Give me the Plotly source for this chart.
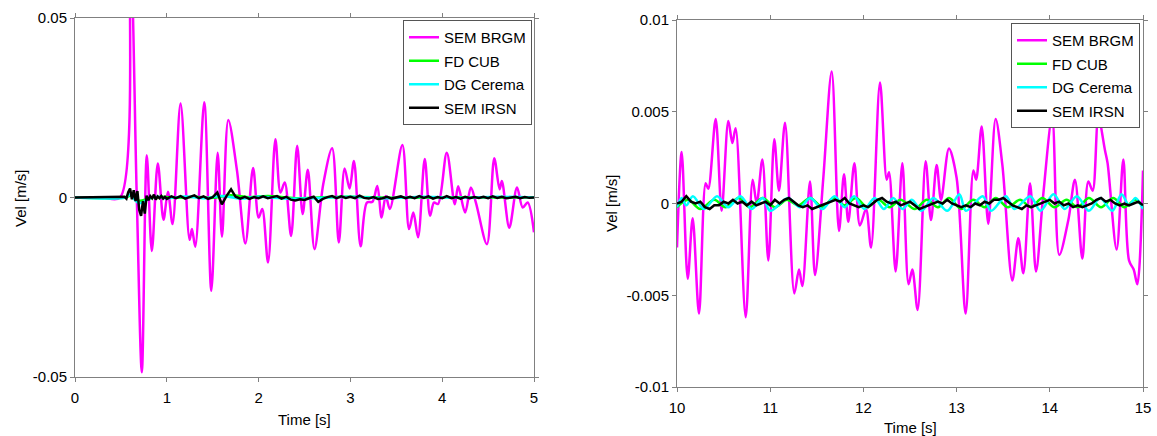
import numpy as np
import plotly.graph_objects as go

# ---------------- Left panel data (0-5 s) ----------------
t_brgm_L = [0, 0.3, 0.49, 0.6, 0.673, 0.728, 0.782, 0.837, 0.902, 0.964, 1.012, 1.063, 1.15, 1.248,
            1.274, 1.31, 1.408, 1.485, 1.554, 1.601, 1.67, 1.765, 1.856, 1.94, 2.0, 2.04, 2.103, 2.183,
            2.238, 2.285, 2.354, 2.42, 2.48, 2.536, 2.609, 2.704, 2.801, 2.874, 2.937, 2.991, 3.039,
            3.111, 3.18, 3.24, 3.293, 3.34, 3.385, 3.43, 3.566, 3.639, 3.686, 3.737, 3.81, 3.868, 3.91,
            3.955, 4.05, 4.137, 4.174, 4.25, 4.312, 4.367, 4.487, 4.567, 4.625, 4.65, 4.731, 4.815,
            4.877, 4.931, 5.0]
v_brgm_L = [0, 0, 0, 0.070, 0, -0.0487, 0.0118, -0.0149, 0.0095, -0.0062, 0.0016, -0.0074, 0.0262,
            -0.0118, -0.0088, -0.0137, 0.0265, -0.026, 0.0125, -0.0109, 0.0216, 0.0074, -0.0128,
            0.0082, -0.0056, -0.0032, -0.0181, 0.0162, 0.0014, 0.0042, -0.0107, 0.0144, -0.0046,
            0.0077, -0.0144, 0.0037, 0.0137, -0.0125, 0.0081, 0.0025, 0.0102, -0.0136, -0.0014,
            -0.0012, 0.0032, -0.0056, 0.0004, -0.0032, 0.0146, -0.0088, -0.0042, -0.0111, 0.0107,
            -0.0051, -0.0014, -0.0018, 0.0125, -0.0019, 0.0031, -0.0042, 0.0028, -0.0014, -0.013,
            0.0109, 0.0023, 0.0046, -0.0084, 0.0028, -0.0028, -0.0014, -0.0097]

t_cub_L = [0, 0.55, 0.62, 0.7, 0.8, 0.95, 1.1, 1.3, 1.5, 1.7, 1.9, 2.1, 2.4, 2.7, 3.0, 3.5, 4.0, 4.5, 5.0]
v_cub_L = [0, 0, 0.0006, -0.0009, -0.0003, 0.0002, -0.0001, 0.0002, -0.0001, 0.0006, 0.0001, 0.0004,
           -0.0002, 0.0001, 0.0002, -0.0001, 0.0001, 0.0, 0.0001]

t_cer_L = [0, 0.55, 0.6, 0.65, 0.7, 0.75, 0.8, 0.9, 1.0, 1.2, 1.4, 1.6, 1.8, 2.0, 2.3, 2.6, 3.0, 3.4,
           3.8, 4.2, 4.6, 5.0]
v_cer_L = [0, 0, 0.0008, -0.0006, -0.0016, -0.0012, -0.0004, 0.0002, -0.0002, 0.0003, -0.0002,
           0.0004, -0.0003, 0.0002, -0.0003, -0.0002, 0.0002, -0.0002, 0.0002, -0.0001, 0.0002, 0.0]

t_irsn_L = [0.0, 0.5] + list(np.round(np.arange(0.52, 1.001, 0.02), 3)) + list(np.round(np.arange(1.05, 5.001, 0.05), 3))
v_irsn_L = [0.0, 0.0,
            0.0, 0.0002, -0.0003, 0.0015, 0.0025, -0.0005, 0.002, -0.001, 0.0018, -0.0035,
            -0.0051, -0.001, -0.0045, 0.0005, -0.0008, 0.0004, -0.0002, 0.0008, -0.0006, 0.0003,
            -0.0002, 0.0004, -0.0003, 0.0002, -0.0004,
            0.0003, -0.0002, 0.0004, -0.0003, 0.0002, 0.0006, -0.0002, 0.0003, -0.0004, 0.0001,
            0.0014, -0.0019, 0.0004, 0.0023, 0.0002, -0.0003, 0.0002, -0.0004, 0.0001, -0.0002,
            0.0003, -0.0002, 0.0001, 0.0004, -0.0003, 0.0002, -0.0006, -0.0008, -0.0005, -0.0007,
            -0.0002, 0.0002, -0.0012, -0.0004, 0.0001, 0.0004, -0.0002, 0.0003, -0.0001, 0.0002,
            -0.0002, 0.0005, -0.0001, -0.0003, 0.0001, -0.0004, -0.0002, 0.0002, -0.0003, 0.0001,
            0.0003, -0.0002, 0.0002, -0.0002, 0.0004, -0.0001, 0.0003, -0.0003, 0.0001, -0.0002,
            0.0004, -0.0002, 0.0001, -0.0003, 0.0002, -0.0002, 0.0001, -0.0001, 0.0002, -0.0002,
            0.0003, -0.0001, 0.0002, -0.0002, 0.0001, 0.0002, -0.0002, 0.0001, -0.0001, 0.0]

# ---------------- Right panel data (10-15 s) ----------------
t_brgm_R = [10.0, 10.05, 10.115, 10.168, 10.236, 10.308, 10.336, 10.415, 10.479, 10.551, 10.594,
            10.629, 10.737, 10.812, 10.855, 10.916, 10.98, 11.044, 11.094, 11.159, 11.259, 11.309,
            11.345, 11.427, 11.481, 11.57, 11.66, 11.738, 11.792, 11.838, 11.903, 11.963, 12.028,
            12.082, 12.178, 12.25, 12.275, 12.346, 12.418, 12.485, 12.525, 12.582, 12.668, 12.725,
            12.786, 12.833, 12.918, 13.0, 13.097, 13.18, 13.21, 13.269, 13.34, 13.419, 13.491,
            13.598, 13.662, 13.716, 13.788, 13.852, 13.93, 14.025, 14.102, 14.199, 14.27, 14.349,
            14.413, 14.46, 14.521, 14.592, 14.62, 14.717, 14.789, 14.85, 14.9, 14.939, 15.0]
v_brgm_R = [-0.0024, 0.0028, -0.0041, -0.0008, -0.006, 0.0011, 0.0008, 0.0046, -0.0004, 0.0045,
            0.0033, 0.0041, -0.0062, 0.0013, 0.0, 0.0024, -0.0031, 0.0035, 0.0007, 0.0044, -0.0049,
            -0.0036, -0.0045, 0.0012, -0.0039, 0.0014, 0.0072, -0.0015, 0.0016, -0.001, 0.0022,
            -0.0012, -0.0003, -0.0024, 0.0066, 0.0013, 0.0017, -0.0037, 0.0022, -0.0044, -0.0036,
            -0.0058, 0.0023, -0.0009, 0.0021, 0.0002, 0.003, 0.0014, -0.006, 0.0018, 0.0013, 0.0042,
            -0.0011, 0.0046, 0.0021, -0.0042, -0.0019, -0.0038, 0.0011, -0.0037, 0.0005, 0.0047,
            -0.0028, -0.0009, 0.0013, -0.003, 0.0012, 0.0007, 0.0047, 0.0029, 0.0022, -0.0025,
            0.0024, -0.0031, -0.0036, -0.0044, 0.0018]

t_cub_R = [10.0, 10.12, 10.25, 10.4, 10.52, 10.66, 10.78, 10.92, 11.05, 11.18, 11.3, 11.43, 11.56,
           11.68, 11.8, 11.92, 12.04, 12.16, 12.28, 12.4, 12.55, 12.68, 12.8, 12.92, 13.05, 13.18,
           13.3, 13.42, 13.55, 13.68, 13.8, 13.92, 14.05, 14.18, 14.3, 14.42, 14.55, 14.68, 14.8,
           14.92, 15.0]
v_cub_R = [-0.0002, 0.0002, -0.0003, 0.0002, -0.0002, 0.0003, -0.0002, 0.0003, -0.0002, 0.0002,
           -0.0001, 0.0003, -0.0002, 0.0003, -0.0001, 0.0003, -0.0002, 0.0002, -0.0002, 0.0002,
           -0.0003, 0.0002, -0.0002, 0.0003, -0.0003, 0.0002, -0.0002, 0.0003, -0.0002, 0.0002,
           -0.0002, 0.0003, -0.0002, 0.0002, -0.0002, 0.0003, -0.0002, 0.0003, -0.0002, 0.0002,
           -0.0002]

t_cer_R = [10.0, 10.05, 10.1, 10.17, 10.29, 10.43, 10.55, 10.68, 10.8, 10.92, 11.0, 11.19, 11.32,
           11.43, 11.56, 11.69, 11.8, 11.9, 12.01, 12.12, 12.22, 12.32, 12.42, 12.52, 12.625, 12.75,
           12.9, 13.03, 13.1, 13.28, 13.37, 13.53, 13.62, 13.79, 13.9, 14.04, 14.16, 14.29, 14.42,
           14.54, 14.67, 14.77, 14.85, 14.92, 15.0]
v_cer_R = [-0.0002, 0.0003, -0.0001, 0.0004, -0.0003, 0.0004, -0.0002, 0.0004, -0.0003, 0.0003,
           -0.0004, 0.0003, -0.0002, 0.0003, -0.0003, 0.0004, -0.0002, 0.0004, -0.0003, 0.0003,
           -0.0003, 0.0003, -0.0003, 0.0002, -0.0004, 0.0003, -0.0004, 0.0005, -0.0004, 0.0004,
           -0.0004, 0.0004, -0.0003, 0.0004, -0.0004, 0.0005, -0.0003, 0.0004, -0.0004, 0.0003,
           -0.0004, 0.0005, -0.0001, 0.0003, -0.0003]

t_irsn_R = list(np.round(np.arange(10.0, 15.001, 0.05), 3))
v_irsn_R = [0.0, 0.0001, 0.0004, 0.0001, 0.0, 0.0001, -0.0002, -0.0003, -0.0001, -0.0001, 0.0001,
            0.0, 0.0002, 0.0, 0.0001, -0.0001, 0.0001, -0.0001, 0.0, 0.0001, -0.0001,
            0.0002, 0.0, 0.0002, 0.0003, 0.0001, -0.0001, -0.0002, -0.0001, -0.0003, -0.0002,
            -0.0001, 0.0, 0.0001, 0.0002, 0.0001, 0.0003, 0.0, -0.0001, -0.0002, -0.0001,
            -0.0002, 0.0, 0.0002, 0.0003, 0.0001, 0.0, 0.0001, -0.0001, 0.0, 0.0001,
            -0.0001, -0.0003, -0.0002, -0.0001, 0.0, 0.0001, 0.0, 0.0002, 0.0, -0.0001,
            -0.0002, -0.0001, -0.0002, 0.0, -0.0001, 0.0001, 0.0, 0.0002, 0.0002, 0.0003,
            0.0001, -0.0001, -0.0002, -0.0003, -0.0001, -0.0002, -0.0001, 0.0, 0.0001, 0.0002,
            0.0, 0.0001, -0.0001, 0.0, -0.0002, -0.0001, -0.0002, -0.0001, 0.0, 0.0002,
            0.0003, 0.0001, 0.0002, 0.0, -0.0001, 0.0, -0.0001, 0.0, 0.0001, -0.0001]

series_names = ["SEM BRGM", "FD CUB", "DG Cerema", "SEM IRSN"]
series_colors = ["#FF00FF", "#00FF00", "#00FFFF", "#000000"]

left_data = [(t_brgm_L, v_brgm_L), (t_cub_L, v_cub_L), (t_cer_L, v_cer_L), (t_irsn_L, v_irsn_L)]
right_data = [(t_brgm_R, v_brgm_R), (t_cub_R, v_cub_R), (t_cer_R, v_cer_R), (t_irsn_R, v_irsn_R)]

FONT = "Liberation Sans, Arial, Helvetica, sans-serif"

fig = go.Figure()
for i, (name, col) in enumerate(zip(series_names, series_colors)):
    tx, vy = left_data[i]
    fig.add_trace(go.Scatter(
        x=tx, y=vy, mode="lines", name=name, legend="legend", legendgroup="L%d" % i,
        line=dict(color=col, width=2.5, shape="spline" if i < 3 else "linear", smoothing=0.9),
        xaxis="x", yaxis="y"))
for i, (name, col) in enumerate(zip(series_names, series_colors)):
    tx, vy = right_data[i]
    fig.add_trace(go.Scatter(
        x=tx, y=vy, mode="lines", name=name, legend="legend2", legendgroup="R%d" % i,
        line=dict(color=col, width=2.5, shape="spline" if i < 3 else "linear", smoothing=0.9),
        xaxis="x2", yaxis="y2"))

W, H = 1157, 436
axis_common = dict(showline=True, linecolor="#808080", linewidth=1, mirror="ticks",
                   ticks="outside", ticklen=4, tickcolor="#808080", showgrid=False,
                   zeroline=False, automargin=False,
                   tickfont=dict(family=FONT, size=15, color="#000000"))

legend_common = dict(bordercolor="#555555", borderwidth=1, bgcolor="#FFFFFF",
                     font=dict(family=FONT, size=15, color="#000000"),
                     tracegroupgap=1, xanchor="right", yanchor="top", itemwidth=30)

title_font = dict(family=FONT, size=15, color="#000")

fig.update_layout(
    width=W, height=H, autosize=False, margin=dict(l=0, r=0, t=0, b=0, pad=0),
    paper_bgcolor="#FFFFFF", plot_bgcolor="#FFFFFF",
    xaxis=dict(domain=[75 / W, 534 / W], anchor="y", range=[0, 5], ticklabelstandoff=3,
               tickvals=[0, 1, 2, 3, 4, 5], ticktext=["0", "1", "2", "3", "4", "5"], **axis_common),
    yaxis=dict(domain=[1 - 377 / H, 1 - 18 / H], anchor="x", range=[-0.05, 0.05],
               tickvals=[-0.05, 0, 0.05], ticktext=["-0.05", "0", "0.05"], **axis_common),
    xaxis2=dict(domain=[677 / W, 1143 / W], anchor="y2", range=[10, 15], ticklabelstandoff=3,
                tickvals=[10, 11, 12, 13, 14, 15],
                ticktext=["10", "11", "12", "13", "14", "15"], **axis_common),
    yaxis2=dict(domain=[1 - 387 / H, 1 - 20 / H], anchor="x2", range=[-0.01, 0.01],
                tickvals=[-0.01, -0.005, 0, 0.005, 0.01],
                ticktext=["-0.01", "-0.005", "0", "0.005", "0.01"], **axis_common),
    legend=dict(x=532 / W, y=1 - 20 / H, **legend_common),
    legend2=dict(x=1140 / W, y=1 - 23 / H, **legend_common),
    annotations=[
        dict(text="Vel [m/s]", x=20 / W, y=1 - 198 / H, xref="paper", yref="paper",
             xanchor="center", yanchor="middle", textangle=-90, showarrow=False, font=title_font),
        dict(text="Time [s]", x=304 / W, y=1 - 419 / H, xref="paper", yref="paper",
             xanchor="center", yanchor="middle", showarrow=False, font=title_font),
        dict(text="Vel [m/s]", x=612 / W, y=1 - 203 / H, xref="paper", yref="paper",
             xanchor="center", yanchor="middle", textangle=-90, showarrow=False, font=title_font),
        dict(text="Time [s]", x=910 / W, y=1 - 427 / H, xref="paper", yref="paper",
             xanchor="center", yanchor="middle", showarrow=False, font=title_font),
    ],
)

fig.write_html(
    "out.html",
    config={"displayModeBar": False, "responsive": False},
    post_script=("document.body.style.margin='0px';document.body.style.overflow='hidden';"
                 "var gd=document.getElementById('{plot_id}');"
                 "Plotly.relayout(gd,{width:1157,height:436});"),
)
